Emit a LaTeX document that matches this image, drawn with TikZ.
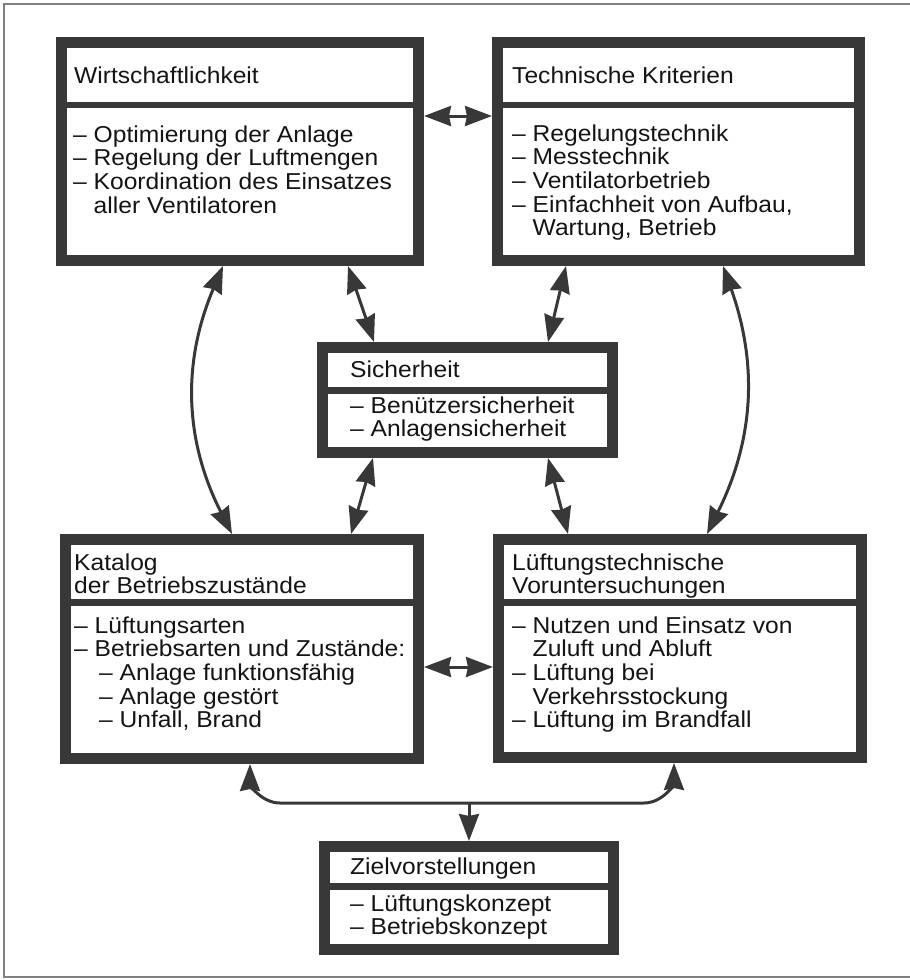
\documentclass[tikz,border=0pt]{standalone}
\usepackage{fontspec}
\setmainfont{Liberation Sans}[FakeStretch=1.07]
\usetikzlibrary{arrows.meta}
\colorlet{boxColor}{black!78}
\colorlet{textColor}{black!92}
\colorlet{frameColor}{black!50}
\newcommand{\boxfont}{\fontsize{23pt}{23.5pt}\selectfont}
\newcommand{\boxtext}[1]{\begin{tabular}[t]{@{}l@{}}#1\end{tabular}}
\newcommand{\contline}{\phantom{– }}
\tikzstyle{panel}=[rectangle, draw=boxColor, line width=11pt, fill=white, inner sep=0pt]
\tikzstyle{divider}=[draw=boxColor, line width=6.5pt]
\tikzstyle{boxlabel}=[anchor=base west, inner sep=0pt, font=\boxfont, text=textColor]
\tikzstyle{link}=[{Stealth[length=27pt,width=20pt,inset=2pt]}-{Stealth[length=27pt,width=20pt,inset=2pt]}, line width=3pt, draw=boxColor]
\tikzstyle{oneway}=[-{Stealth[length=27pt,width=20pt,inset=2pt]}, line width=3pt, draw=boxColor]

\begin{document}
\begin{tikzpicture}[x=1pt, y=-1pt]
      \useasboundingbox (0,0) rectangle (910,980);
      \draw[frameColor, line width=1.2pt] (910,4) -- (4,4) -- (4,977) -- (910,977);

      % boxes
      \node(wirt) at (240,151.5) [panel, minimum width=357pt, minimum height=218pt] {};
      \node(tech) at (678.5,151.5) [panel, minimum width=362pt, minimum height=218pt] {};
      \node(siche) at (467.5,400) [panel, minimum width=290pt, minimum height=105pt] {};
      \node(kat) at (242,649) [panel, minimum width=353pt, minimum height=219pt] {};
      \node(lueft) at (680,648.5) [panel, minimum width=363pt, minimum height=218pt] {};
      \node(ziel) at (469,898) [panel, minimum width=289pt, minimum height=103pt] {};

      \draw[divider] ([yshift=-68pt]wirt.north west) -- ([yshift=-68pt]wirt.north east);
      \draw[divider] ([yshift=-68pt]tech.north west) -- ([yshift=-68pt]tech.north east);
      \draw[divider] ([yshift=-48.5pt]siche.north west) -- ([yshift=-48.5pt]siche.north east);
      \draw[divider] ([yshift=-68.5pt]kat.north west) -- ([yshift=-68.5pt]kat.north east);
      \draw[divider] ([yshift=-68.5pt]lueft.north west) -- ([yshift=-68.5pt]lueft.north east);
      \draw[divider] ([yshift=-45.5pt]ziel.north west) -- ([yshift=-45.5pt]ziel.north east);

      % texts
      \node(wirt-t) at (74,83) [boxlabel] {Wirtschaftlichkeit};
      \node(wirt-b) at (73,142) [boxlabel] {\boxtext{– Optimierung der Anlage\\
        – Regelung der Luftmengen\\
        – Koordination des Einsatzes\\
        \contline aller Ventilatoren}};
      \node(tech-t) at (512,83) [boxlabel] {Technische Kriterien};
      \node(tech-b) at (512,141) [boxlabel] {\boxtext{– Regelungstechnik\\
        – Messtechnik\\
        – Ventilatorbetrieb\\
        – Einfachheit von Aufbau,\\
        \contline Wartung, Betrieb}};
      \node(siche-t) at (350,377) [boxlabel] {Sicherheit};
      \node(siche-b) at (350,413) [boxlabel] {\boxtext{– Benützersicherheit\\
        – Anlagensicherheit}};
      \node(kat-t) at (74,570) [boxlabel] {\boxtext{Katalog\\der Betriebszustände}};
      \node(kat-b) at (74,633) [boxlabel] {\boxtext{– Lüftungsarten\\
        – Betriebsarten und Zustände:\\
        \hspace*{25pt}– Anlage funktionsfähig\\
        \hspace*{25pt}– Anlage gestört\\
        \hspace*{25pt}– Unfall, Brand}};
      \node(lueft-t) at (512,570) [boxlabel] {\boxtext{Lüftungstechnische\\Voruntersuchungen}};
      \node(lueft-b) at (512,633) [boxlabel] {\boxtext{– Nutzen und Einsatz von\\
        \contline Zuluft und Abluft\\
        – Lüftung bei\\
        \contline Verkehrsstockung\\
        – Lüftung im Brandfall}};
      \node(ziel-t) at (350,874) [boxlabel] {Zielvorstellungen};
      \node(ziel-b) at (350,911) [boxlabel] {\boxtext{– Lüftungskonzept\\
        – Betriebskonzept}};

      % connectors
      \draw[link] ([yshift=35.5pt]wirt.east) -- ([yshift=35.5pt]tech.west);
      \draw[link] ([yshift=-18pt]kat.east) -- ([yshift=-18.5pt]lueft.west);
      \draw[link] ([xshift=-17pt]wirt.south) to[bend right=25] ([xshift=-10pt]kat.north);
      \draw[link] ([xshift=44.5pt]tech.south) to[bend left=23] ([xshift=27pt]lueft.north);
      \draw[link] ([xshift=108pt]wirt.south) -- ([xshift=-93.5pt]siche.north);
      \draw[link] ([xshift=-112.5pt]tech.south) -- ([xshift=80.5pt]siche.north);
      \draw[link] ([xshift=-94.5pt]siche.south) -- ([xshift=109pt]kat.north);
      \draw[link] ([xshift=80.5pt]siche.south) -- ([xshift=-112pt]lueft.north);
      \coordinate(fork) at (469,803);
      \draw[link] ([xshift=8pt]kat.south) to[out=-90, in=180] ([xshift=38pt]kat.south |- fork)
        -- ([xshift=-36pt]lueft.south |- fork) to[out=0, in=-90] ([xshift=-6pt]lueft.south);
      \draw[oneway] (fork) -- (ziel.north);
    \end{tikzpicture}
\end{document}
